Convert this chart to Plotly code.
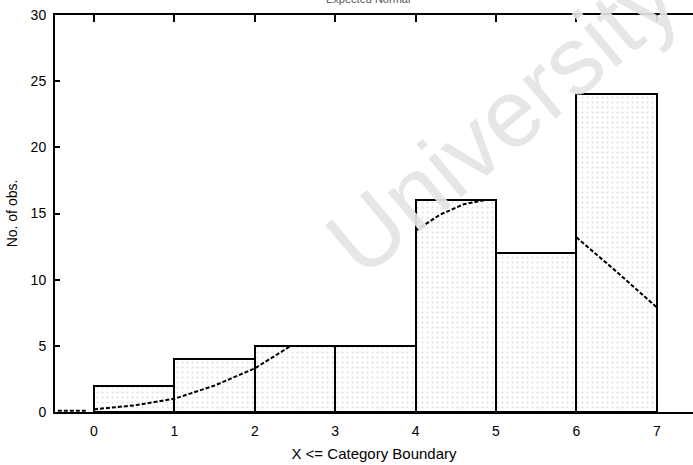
import plotly.graph_objects as go

# Data
bin_left = [0, 1, 2, 3, 4, 5, 6]
counts = [2, 4, 5, 5, 16, 12, 24]
x_ticks = [0, 1, 2, 3, 4, 5, 6, 7]
y_ticks = [0, 5, 10, 15, 20, 25, 30]

# Expected normal curve (visible segments)
curve_x = [-0.45, -0.1, None, 0.0, 0.5, 1.0, 1.5, 2.0, 2.45, None,
           4.0, 4.3, 4.6, 4.85, None, 6.0, 6.5, 7.0]
curve_y = [0.1, 0.1, None, 0.2, 0.5, 1.0, 2.0, 3.3, 5.0, None,
           13.7, 14.9, 15.7, 16.0, None, 13.2, 10.6, 7.9]

bar_centers = [b + 0.5 for b in bin_left]

fig = go.Figure()
fig.add_trace(go.Bar(
    x=bar_centers, y=counts, width=1,
    marker=dict(color="white",
                line=dict(color="black", width=2),
                pattern=dict(shape=".", fgcolor="#b8b8b8", bgcolor="white",
                             size=5, solidity=0.12)),
    showlegend=False,
))
fig.add_trace(go.Scatter(
    x=curve_x, y=curve_y, mode="lines",
    line=dict(color="black", width=2, dash="4px,2px"),
    connectgaps=False, showlegend=False,
))

font = "Liberation Sans, Arial, sans-serif"
fig.update_layout(
    width=693, height=465,
    margin=dict(l=55, r=0, t=15, b=53),
    paper_bgcolor="white", plot_bgcolor="white",
    font=dict(family=font, color="black", size=14),
    bargap=0,
    xaxis=dict(range=[-0.485, 7.45], tickvals=x_ticks, ticks="inside",
               ticklen=7, tickwidth=1.5, tickcolor="black",
               showline=True, linecolor="black", linewidth=2, mirror="ticks",
               showgrid=False, zeroline=False, automargin=False,
               ticklabelstandoff=5,
               title=dict(text="X <= Category Boundary", font=dict(size=15), standoff=11),
               tickfont=dict(size=14)),
    yaxis=dict(range=[0, 30], tickvals=y_ticks, ticks="inside",
               ticklen=5, tickwidth=1.5, tickcolor="black",
               showline=True, linecolor="black", linewidth=2,
               showgrid=False, zeroline=False, automargin=False,
               ticklabelstandoff=4,
               title=dict(text="No. of obs.", font=dict(size=14), standoff=10),
               tickfont=dict(size=14)),
    annotations=[
        dict(text="Expected Normal", x=0.49, xref="paper", y=1.04, yref="paper",
             xanchor="center", yanchor="middle", showarrow=False,
             font=dict(size=11, color="#555")),
        dict(text="University", x=0.70, xref="paper", y=0.738, yref="paper",
             xanchor="center", yanchor="middle",
             textangle=-40, showarrow=False,
             font=dict(size=96, color="rgba(228,228,228,0.92)", family=font)),
    ],
)

fig.write_html("out.html", config={"displayModeBar": False},
               post_script="document.body.style.margin='0';")
